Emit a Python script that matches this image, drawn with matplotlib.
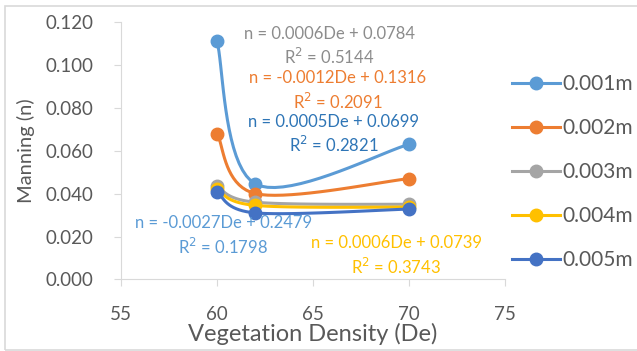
import numpy as np
import matplotlib
matplotlib.use('Agg')
import matplotlib.pyplot as plt
from matplotlib.patches import Rectangle

plt.rcParams['font.family'] = ['Lato', 'DejaVu Sans']

# --- data ---
density = [60, 62, 70]
series_names = ['0.001m', '0.002m', '0.003m', '0.004m', '0.005m']
n_0001 = [0.111, 0.0445, 0.063]
n_0002 = [0.068, 0.040, 0.047]
n_0003 = [0.0435, 0.036, 0.035]
n_0004 = [0.042, 0.0345, 0.0337]
n_0005 = [0.0407, 0.031, 0.0328]
colors = ['#5B9BD5', '#ED7D31', '#A5A5A5', '#FFC000', '#4472C4']

equations = ['n = 0.0006De + 0.0784\nR$^2$ = 0.5144',
             'n = -0.0012De + 0.1316\nR$^2$ = 0.2091',
             'n = 0.0005De + 0.0699\nR$^2$ = 0.2821',
             'n = -0.0027De + 0.2479\nR$^2$ = 0.1798',
             'n = 0.0006De + 0.0739\nR$^2$ = 0.3743']
eq_colors = ['#8C8C8C', '#ED7D31', '#2E75B6', '#5B9BD5', '#FFC000']
eq_pos = [(65.85, 0.1086), (66.27, 0.0878), (66.06, 0.0675), (60.33, 0.0202), (69.34, 0.0109)]


def smooth(xs, ys, k=20):
    # Excel-style smoothed line: bezier segments, catmull-rom tangents
    p = np.column_stack([xs, ys]).astype(float)
    out = []
    t = np.linspace(0, 1, k)[:, None]
    for i in range(len(p) - 1):
        p0 = p[i - 1] if i > 0 else p[i]
        p3 = p[i + 2] if i + 2 < len(p) else p[i + 1]
        c1 = p[i] + (p[i + 1] - p0) / 6
        c2 = p[i + 1] - (p3 - p[i]) / 6
        seg = ((1 - t) ** 3 * p[i] + 3 * (1 - t) ** 2 * t * c1
               + 3 * (1 - t) * t ** 2 * c2 + t ** 3 * p[i + 1])
        out.append(seg)
    out = np.vstack(out)
    return out[:, 0], out[:, 1]


fig = plt.figure(figsize=(6.37, 3.51), dpi=100)
ax = fig.add_axes([0.19, 0.204, 0.603, 0.733])

for name, ys, c in zip(series_names, [n_0001, n_0002, n_0003, n_0004, n_0005], colors):
    sx, sy = smooth(density, ys)
    ax.plot(sx, sy, color=c, lw=2.2, solid_capstyle='round')
    ax.plot(density, ys, 'o', color=c, ms=9)
    ax.plot([], [], '-o', color=c, lw=2.2, ms=9, label=name)

for txt, c, (x, y) in zip(equations, eq_colors, eq_pos):
    ax.text(x, y, txt, color=c, fontsize=12, ha='center', va='center', linespacing=1.32)

ax.set_xlim(55, 75)
ax.set_ylim(0, 0.12)
ax.set_xticks([55, 60, 65, 70, 75])
ax.set_yticks(np.arange(0, 0.121, 0.02))
ax.yaxis.set_major_formatter(plt.FormatStrFormatter('%.3f'))
for s in ['top', 'right']:
    ax.spines[s].set_visible(False)
for s in ['left', 'bottom']:
    ax.spines[s].set_color('#D9D9D9')
ax.tick_params(colors='#D9D9D9', labelcolor='#595959', labelsize=13.5, length=5)
ax.tick_params(axis='y', pad=15)
ax.tick_params(axis='x', pad=14)
ax.set_xlabel('Vegetation Density (De)', color='#595959', fontsize=17, labelpad=0)
ax.set_ylabel('Manning (n)', color='#595959', fontsize=14.5, labelpad=0)
ax.yaxis.set_label_coords(-0.225, 0.5)

fig.legend(loc='center left', bbox_to_anchor=(0.775, 0.51), frameon=False,
           fontsize=15, labelcolor='#595959', handlelength=2.3,
           labelspacing=1.15, handletextpad=0.1)

fig.patches.append(Rectangle((5 / 637, 1 / 351), 1.2, 344 / 351, transform=fig.transFigure,
                             fill=False, edgecolor='#D9D9D9', lw=1.2))

plt.savefig('out.png', dpi=100)
plt.close()
